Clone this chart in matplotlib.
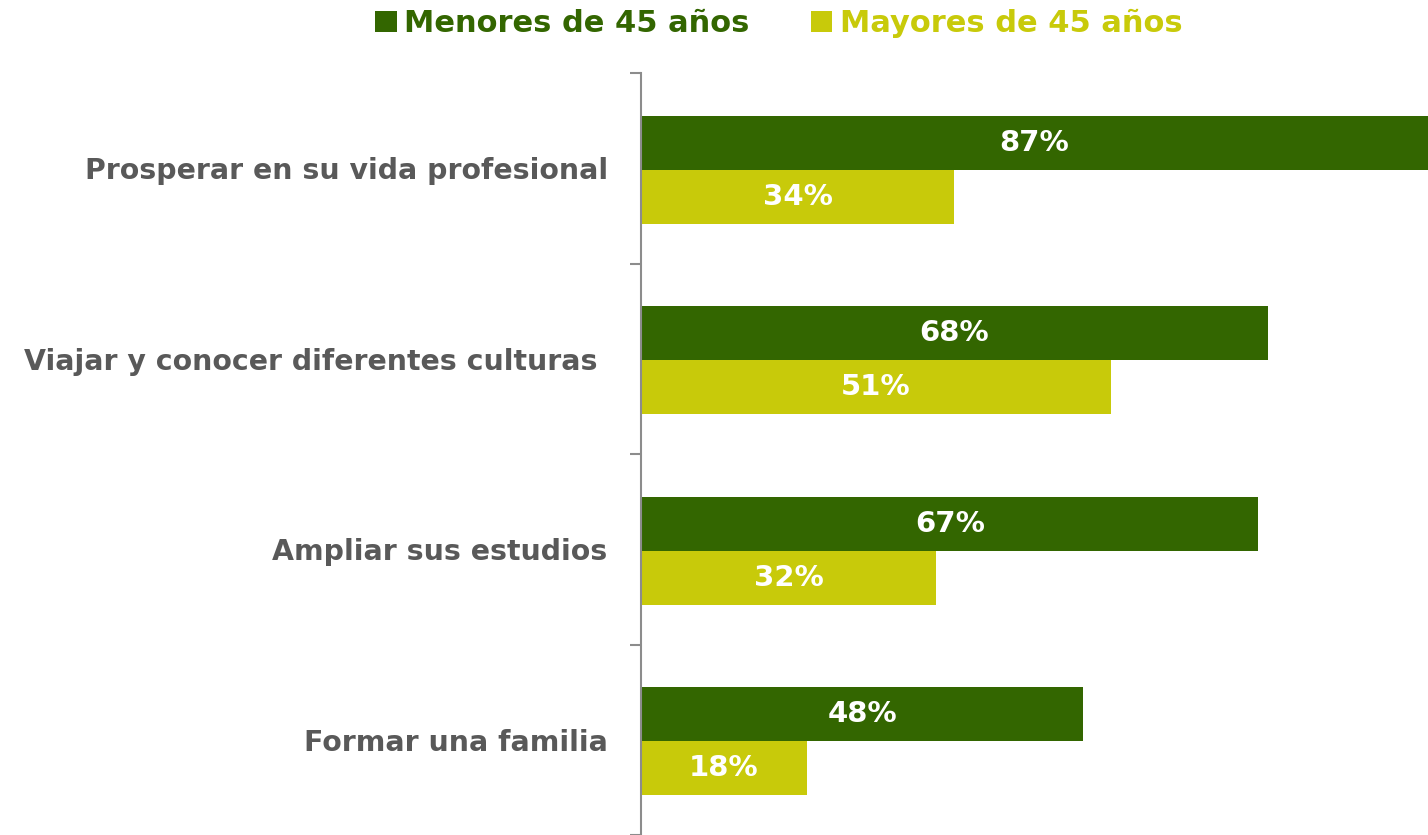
import matplotlib.pyplot as plt
import numpy as np

categorias = ['Prosperar en su vida profesional',
              'Viajar y conocer diferentes culturas ',
              'Ampliar sus estudios',
              'Formar una familia']
menores = [87, 68, 67, 48]
mayores = [34, 51, 32, 18]
series = ['Menores de 45 años', 'Mayores de 45 años']

verde = '#336600'
amarillo = '#C8CA0A'
gris = '#595959'

plt.rcParams['font.family'] = 'DejaVu Sans'

fig = plt.figure(figsize=(14.28, 8.35), dpi=100)
ax = fig.add_axes([641/1428, 0, 1 - 641/1428, 1 - 73/835])

y = np.arange(len(categorias))
h = 0.284
xmax = 85.4

b1 = ax.barh(y - h/2 + 0.008, menores, height=h, color=verde, label=series[0])
b2 = ax.barh(y + h/2 + 0.008, mayores, height=h, color=amarillo, label=series[1])

for bars, vals in ((b1, menores), (b2, mayores)):
    for bar, v in zip(bars, vals):
        cy = bar.get_y() + bar.get_height() / 2
        ax.text(min(v, xmax) / 2, cy, f'{v}%', ha='center', va='center',
                color='white', fontsize=21, fontweight='bold')

ax.set_xlim(0, xmax)
ax.set_ylim(len(categorias) - 0.5, -0.5)

for s in ('top', 'right', 'bottom'):
    ax.spines[s].set_visible(False)
ax.spines['left'].set_color('#8c8c8c')
ax.spines['left'].set_linewidth(1.5)
ax.set_xticks([])

ax.set_yticks(y)
ax.set_yticklabels(categorias, fontsize=20.4, fontweight='bold', color=gris)
ax.tick_params(axis='y', which='major', length=0, pad=24)
ax.set_yticks(np.arange(-0.5, len(categorias), 1), minor=True)
ax.tick_params(axis='y', which='minor', length=8, width=1.5, color='#8c8c8c')

leg = fig.legend(handles=[b1, b2], loc='upper center', bbox_to_anchor=(0.5455, 1.022),
                 ncol=2, frameon=False, handlelength=0.7, handleheight=0.7,
                 handletextpad=0.25, columnspacing=2.0,
                 prop={'weight': 'bold', 'size': 22})
for txt, c in zip(leg.get_texts(), (verde, amarillo)):
    txt.set_color(c)

fig.savefig('out.png', dpi=100)
